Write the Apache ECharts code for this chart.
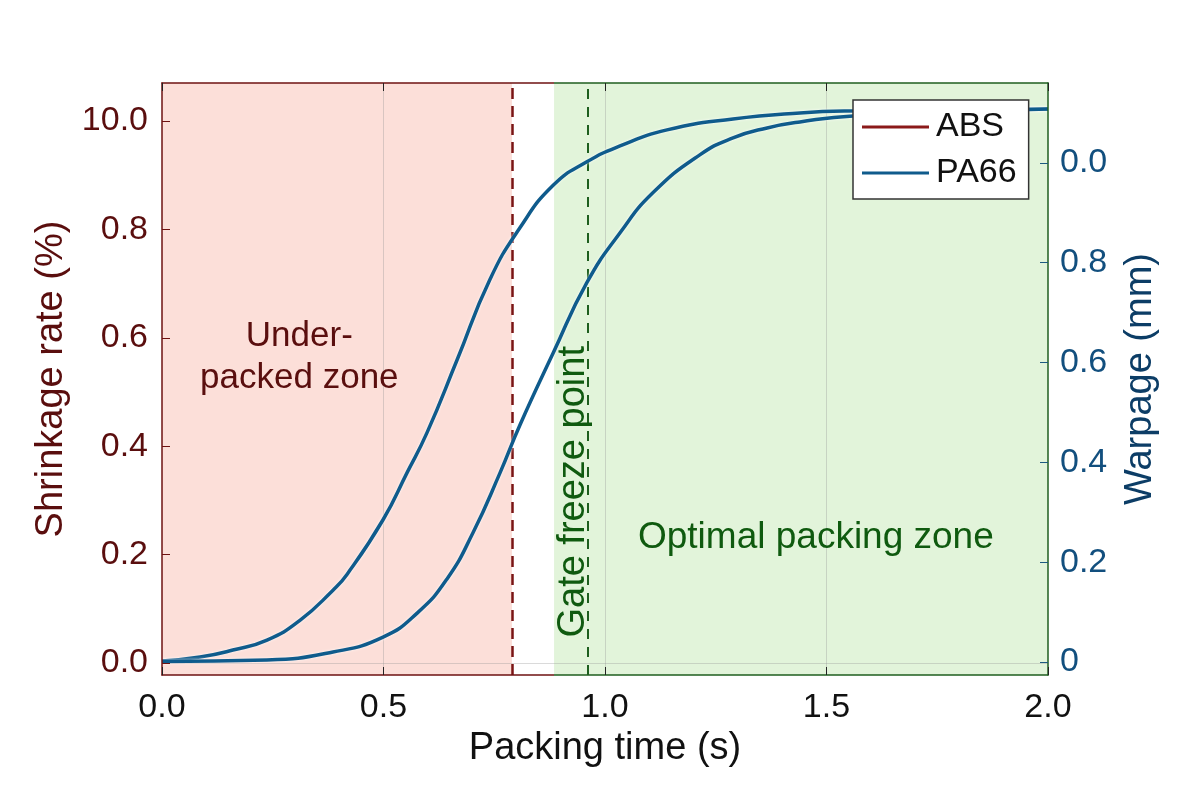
<!DOCTYPE html>
<html>
<head>
<meta charset="utf-8">
<title>Packing time vs shrinkage / warpage</title>
<script src="https://cdn.jsdelivr.net/npm/echarts@6/dist/echarts.min.js"></script>
<style>
  html, body { margin: 0; background: #fff; }
  #main { width: 1200px; height: 794px; }
</style>
</head>
<body>
<div id="main"></div>
<script>
// tick values and the labels printed in the figure
var xTicks = [0, 0.5, 1.0, 1.5, 2.0];
var xTickLabels = ['0.0', '0.5', '1.0', '1.5', '2.0'];
var leftTicks = [0, 0.2, 0.4, 0.6, 0.8, 1.0];
var leftTickLabels = ['0.0', '0.2', '0.4', '0.6', '0.8', '10.0'];
var rightTicks = [0, 0.2, 0.4, 0.6, 0.8, 1.0];
var rightTickLabels = ['0', '0.2', '0.4', '0.6', '0.8', '0.0'];

// PA66 curves (packing time s -> warpage mm)
var tFast = [0, 0.086, 0.160, 0.237, 0.312, 0.386, 0.418, 0.499, 0.553, 0.598, 0.666, 0.740, 0.808, 0.883, 0.959, 1.034, 1.140, 1.289, 1.440, 1.560, 2.0];
var pa66Fast = [0.002, 0.010, 0.024, 0.044, 0.084, 0.144, 0.176, 0.285, 0.379, 0.459, 0.605, 0.766, 0.870, 0.955, 1.002, 1.034, 1.066, 1.088, 1.100, 1.104, 1.108];
var tSlow = [0, 0.237, 0.386, 0.499, 0.576, 0.643, 0.702, 0.763, 0.808, 0.883, 0.959, 1.034, 1.108, 1.214, 1.289, 1.366, 1.440, 1.560, 2.0];
var pa66Slow = [0.001, 0.004, 0.020, 0.050, 0.098, 0.166, 0.259, 0.379, 0.475, 0.619, 0.760, 0.860, 0.940, 1.016, 1.050, 1.070, 1.082, 1.094, 1.108];

// zones and marker lines (packing time, s)
var underZone = [0, 0.79];
var optimalZone = [0.885, 2.0];
var underLimit = 0.79;
var gateFreeze = 0.959;
var gridTimes = [0.5, 1.0, 1.5];

var RED = '#6e1212';
var GREEN = '#1f5e1f';
var BLUE = '#0f5b8c';
var FONT = 'Liberation Sans';

function pairs(xs, ys) {
  return xs.map(function (x, i) { return [x, ys[i]]; });
}

function splitColor() {
  var f = optimalZone[0] / 2;
  return new echarts.graphic.LinearGradient(0, 0, 1, 0, [
    { offset: 0, color: RED }, { offset: f, color: RED },
    { offset: f, color: GREEN }, { offset: 1, color: GREEN }
  ]);
}

var chart = echarts.init(document.getElementById('main'));

var curveStyle = { width: 3.5, color: BLUE, shadowColor: 'rgba(255,255,255,0.9)', shadowBlur: 3 };

var option = {
  backgroundColor: '#fff',
  animation: false,
  textStyle: { fontFamily: FONT },
  grid: { left: 162, right: 152, top: 83, bottom: 119 },
  legend: {
    left: 853, top: 100, orient: 'vertical', z: 20,
    data: [{ name: 'ABS', icon: 'rect' }, { name: 'PA66', icon: 'rect' }],
    itemWidth: 67, itemHeight: 3, itemGap: 10,
    padding: [9, 12, 8, 9],
    backgroundColor: '#fff', borderColor: '#333', borderWidth: 1.5, borderRadius: 0,
    textStyle: { fontSize: 34, color: '#111', fontFamily: FONT, lineHeight: 36, padding: [0, 0, 0, 2] }
  },
  xAxis: [{
    type: 'value', min: 0, max: 2, interval: 0.5, z: 10,
    name: 'Packing time (s)', nameLocation: 'middle', nameGap: 54,
    nameTextStyle: { fontSize: 38, color: '#111', fontFamily: FONT },
    axisLine: { onZero: false, lineStyle: { color: splitColor(), width: 1.5 } },
    axisTick: { inside: true, length: 8, lineStyle: { color: '#222' }, customValues: xTicks },
    axisLabel: {
      fontSize: 34, color: '#111', margin: 16, fontFamily: FONT,
      customValues: xTicks,
      formatter: function (v) { return xTickLabels[xTicks.indexOf(v)]; }
    },
    splitLine: { show: false }
  }, {
    type: 'value', min: 0, max: 2, interval: 0.5, position: 'top', z: 10,
    axisLine: { onZero: false, lineStyle: { color: splitColor(), width: 1.5 } },
    axisTick: { inside: true, length: 8, lineStyle: { color: '#222' } },
    axisLabel: { show: false },
    splitLine: { show: false }
  }],
  yAxis: [{
    type: 'value', min: -0.0221, max: 1.070, position: 'left', z: 10,
    name: 'Shrinkage rate (%)', nameLocation: 'middle', nameGap: 82, nameRotate: 90,
    nameTextStyle: { fontSize: 38, color: '#5a0e0e', fontFamily: FONT },
    axisLine: { show: true, onZero: false, lineStyle: { color: RED, width: 1.5 } },
    axisTick: { inside: true, length: 8, lineStyle: { color: RED }, customValues: leftTicks },
    axisLabel: {
      fontSize: 34, color: '#5a0e0e', margin: 14, fontFamily: FONT,
      customValues: leftTicks,
      formatter: function (v) { return leftTickLabels[leftTicks.indexOf(v)]; }
    },
    splitLine: { show: false }
  }, {
    type: 'value', min: -0.026, max: 1.160, position: 'right', z: 10,
    name: 'Warpage (mm)', nameLocation: 'middle', nameGap: 74, nameRotate: 90,
    nameTextStyle: { fontSize: 38, color: '#0c3d66', fontFamily: FONT },
    axisLine: { show: true, onZero: false, lineStyle: { color: GREEN, width: 1.5 } },
    axisTick: { inside: true, length: 8, lineStyle: { color: '#1d5a80' }, customValues: rightTicks },
    axisLabel: {
      fontSize: 34, color: '#124f7e', margin: 12, fontFamily: FONT,
      customValues: rightTicks,
      formatter: function (v) { return rightTickLabels[rightTicks.indexOf(v)]; }
    },
    splitLine: { show: false }
  }],
  series: [
    {
      name: 'zones', type: 'line', data: [], z: 1,
      markArea: {
        silent: true, z: 1,
        data: [
          [{ xAxis: underZone[0], itemStyle: { color: '#fcdfd9' } }, { xAxis: underZone[1] }],
          [{ xAxis: optimalZone[0], itemStyle: { color: '#e2f4da' } }, { xAxis: optimalZone[1] }]
        ]
      }
    },
    {
      name: 'grid', type: 'line', data: [], z: 2,
      markLine: {
        silent: true, symbol: 'none', z: 2, label: { show: false },
        lineStyle: { color: 'rgba(150,150,150,0.35)', type: 'solid', width: 1 },
        data: gridTimes.map(function (t) { return { xAxis: t }; }).concat([{ yAxis: 0 }])
      }
    },
    {
      name: 'ABS', type: 'line', data: [], color: '#8b1a1a', z: 3,
      markLine: {
        silent: true, symbol: 'none', z: 3, label: { show: false },
        data: [
          { xAxis: underLimit, lineStyle: { color: '#7a1414', type: [11, 7], width: 2.5 } },
          { xAxis: gateFreeze, lineStyle: { color: '#1e5e1e', type: [10, 8], width: 2 } }
        ]
      }
    },
    {
      name: 'PA66', type: 'line', yAxisIndex: 1, smooth: 0.5,
      showSymbol: false, z: 6, color: BLUE, lineStyle: curveStyle,
      data: pairs(tFast, pa66Fast)
    },
    {
      name: 'PA66', type: 'line', yAxisIndex: 1, smooth: 0.5,
      showSymbol: false, z: 6, color: BLUE, lineStyle: curveStyle,
      data: pairs(tSlow, pa66Slow)
    },
    {
      name: 'notes', type: 'line', yAxisIndex: 1, data: [], z: 7,
      markPoint: {
        silent: true, z: 7, symbol: 'rect', symbolSize: 1,
        itemStyle: { color: 'transparent' },
        data: [
          {
            coord: [0.31, 0.611],
            label: { show: true, position: 'inside', formatter: 'Under-\npacked zone',
              fontSize: 35, lineHeight: 42, color: '#5a0e0e', fontFamily: FONT }
          },
          {
            coord: [1.476, 0.248],
            label: { show: true, position: 'inside', formatter: 'Optimal packing zone',
              fontSize: 37, color: '#0f5a0f', fontFamily: FONT }
          },
          {
            coord: [0.928, 0.341],
            label: { show: true, position: 'inside', formatter: 'Gate freeze point', rotate: 90,
              fontSize: 38, color: '#0f5a0f', fontFamily: FONT }
          }
        ]
      }
    }
  ]
};

chart.setOption(option);
</script>
</body>
</html>
